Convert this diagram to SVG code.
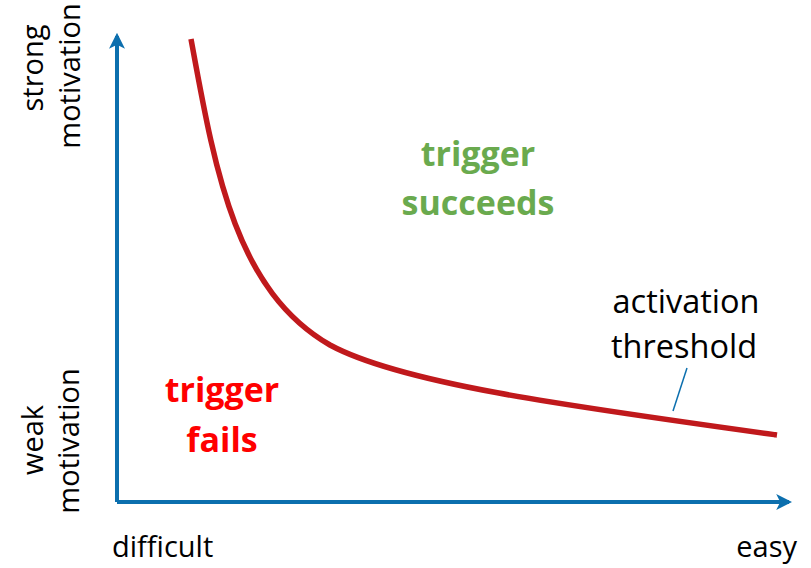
<svg xmlns="http://www.w3.org/2000/svg" width="811" height="568" viewBox="0 0 811 568">
  <style>
    .lbl { font-family: "Open Sans", "Noto Sans", "Liberation Sans", sans-serif; font-size: 29px; fill: #000; }
    .big { font-size: 32.5px; }
    .zone { font-family: "Open Sans", "Noto Sans", "Liberation Sans", sans-serif; font-size: 34px; font-weight: bold; text-anchor: middle; }
    .axis { stroke: #0C6FAE; stroke-width: 4; fill: none; }
  </style>
  <defs>
    <marker id="arrow" viewBox="0 0 10 10" refX="8" refY="5" markerWidth="4" markerHeight="4" orient="auto" markerUnits="strokeWidth">
      <path d="M0,0 L10,5 L0,10 L2.5,5 Z" fill="#0C6FAE"/>
    </marker>
  </defs>
  <rect width="811" height="568" fill="#fff"/>

  <g id="axes">
    <path class="axis" d="M117,502 L117,36" marker-end="url(#arrow)"/>
    <path class="axis" d="M117,502 L789,502" marker-end="url(#arrow)"/>
  </g>

  <g id="connectors">
    <path id="threshold-curve" d="M191,39 C215,170 235,290 330,345 C400,383 560,405 777,435" fill="none" stroke="#C0191C" stroke-width="5.5"/>
    <path id="threshold-pointer" d="M687,368 L673,411" stroke="#0C6FAE" stroke-width="1.5"/>
  </g>

  <g id="y-labels" class="lbl" text-anchor="middle">
    <text transform="translate(43,68) rotate(-90)">strong</text>
    <text transform="translate(80,76) rotate(-90)">motivation</text>
    <text transform="translate(43,440) rotate(-90)">weak</text>
    <text transform="translate(79,441) rotate(-90)">motivation</text>
  </g>

  <g id="x-labels" class="lbl">
    <text x="112" y="557">difficult</text>
    <text x="797" y="557" text-anchor="end">easy</text>
  </g>

  <g id="zone-succeeds" class="zone" fill="#6AAA4E">
    <text x="478" y="166">trigger</text>
    <text x="478" y="215">succeeds</text>
  </g>

  <g id="zone-fails" class="zone" fill="#FF0000">
    <text x="222" y="402">trigger</text>
    <text x="222" y="452">fails</text>
  </g>

  <g id="threshold-label" class="lbl big" text-anchor="middle">
    <text x="686" y="313">activation</text>
    <text x="684" y="358">threshold</text>
  </g>
</svg>
